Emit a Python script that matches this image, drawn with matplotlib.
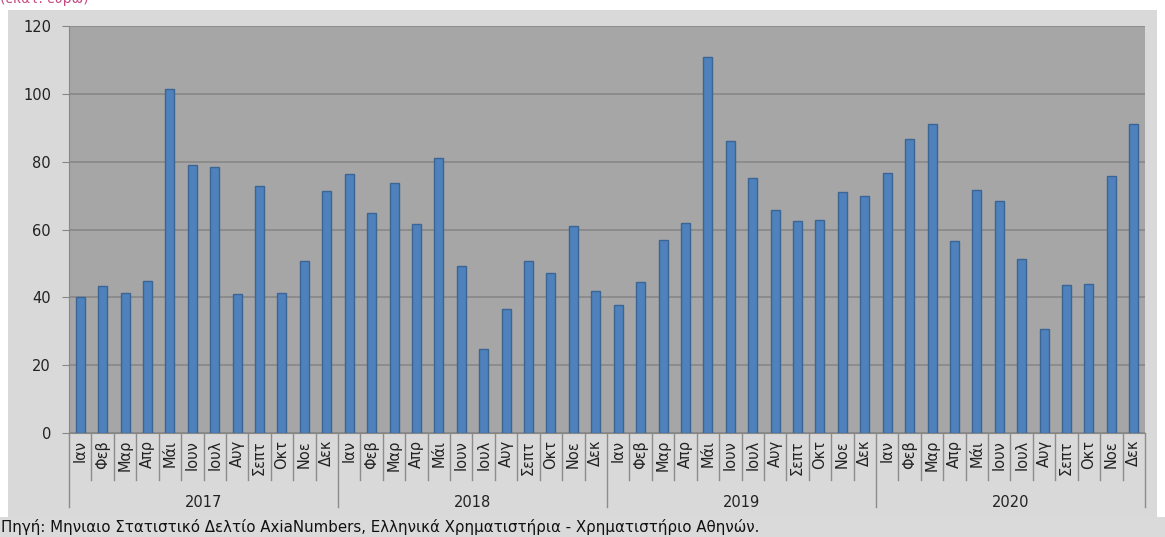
import numpy as np
import matplotlib.pyplot as plt
from matplotlib.patches import Rectangle
from matplotlib.transforms import blended_transform_factory

# Μηνιαία αξία (εκατ. ευρώ), 2017-2020
mhnes = ['Ιαν', 'Φεβ', 'Μαρ', 'Απρ', 'Μάι', 'Ιουν', 'Ιουλ', 'Αυγ', 'Σεπτ', 'Οκτ', 'Νοε', 'Δεκ']
eth = ['2017', '2018', '2019', '2020']
v2017 = [40.0, 43.4, 41.3, 44.8, 101.3, 79.0, 78.3, 40.9, 72.7, 41.3, 50.7, 71.3]
v2018 = [76.5, 65.0, 73.7, 61.6, 81.0, 49.3, 24.9, 36.5, 50.7, 47.3, 60.9, 42.0]
v2019 = [37.8, 44.4, 56.9, 61.9, 110.9, 86.2, 75.1, 65.7, 62.5, 62.9, 71.0, 69.9]
v2020 = [76.8, 86.6, 91.2, 56.6, 71.6, 68.4, 51.3, 30.8, 43.7, 44.0, 75.8, 91.2]
yticks = [0, 20, 40, 60, 80, 100, 120]

times = v2017 + v2018 + v2019 + v2020
etiketes = mhnes * len(eth)
x = np.arange(len(times))

W, H = 1165, 537
fig = plt.figure(figsize=(W / 100, H / 100), dpi=100)
fig.patch.set_facecolor('white')

# φόντο περιοχής γραφήματος
fig.patches.append(Rectangle((8 / W, 1 - 517 / H), 1149 / W, 507 / H,
                             transform=fig.transFigure, facecolor='#d9d9d9',
                             edgecolor='none', zorder=-10))
fig.patches.append(Rectangle((0, 0), 1, 20 / H, transform=fig.transFigure,
                             facecolor='#dadada', edgecolor='none', zorder=-10))

ax = fig.add_axes([69 / W, 1 - 433 / H, (1145 - 69) / W, (433 - 26) / H])
ax.set_facecolor('#a6a6a6')

ax.bar(x, times, width=0.4, color='#4f81bd', edgecolor='#3a6595', linewidth=1, zorder=3)

ax.set_xlim(-0.5, len(times) - 0.5)
ax.set_ylim(0, 120)
ax.set_yticks(yticks)
ax.set_yticklabels([str(t) for t in yticks], fontsize=10.5, color='#222222')
ax.yaxis.grid(True, color='#878787', linewidth=1.2, zorder=1)
ax.tick_params(axis='y', length=5, color='#878787', pad=8)
ax.set_xticks(x)
ax.set_xticklabels(etiketes, rotation=90, fontsize=10.5, color='#222222', va='top')
ax.tick_params(axis='x', length=0, pad=5)

for s in ['top', 'right']:
    ax.spines[s].set_visible(False)
ax.spines['left'].set_color('#878787')
ax.spines['bottom'].set_color('#878787')

# διαχωριστικά μηνών και ετών
tr = blended_transform_factory(ax.transData, ax.transAxes)
for i in range(len(times) + 1):
    xs = i - 0.5
    kato = -0.182 if i % 12 == 0 else -0.1155
    ax.plot([xs, xs], [0, kato], transform=tr, color='#8c8c8c', linewidth=1, clip_on=False)
for k, e in enumerate(eth):
    ax.text(k * 12 + 5.5, -0.170, e, transform=tr, ha='center', va='center',
            fontsize=10.5, color='#222222')

fig.text(0, 1 + 1 / H, '(εκατ. ευρώ)', color='#c44a80', fontsize=10, va='center', ha='left')
fig.text(1 / W, 1 - 527 / H,
         'Πηγή: Μηνιαιο Στατιστικό Δελτίο AxiaNumbers, Ελληνικά Χρηματιστήρια - Χρηματιστήριο Αθηνών.',
         fontsize=10.8, color='#111111', va='center', ha='left')

fig.savefig('out.png', dpi=100)
